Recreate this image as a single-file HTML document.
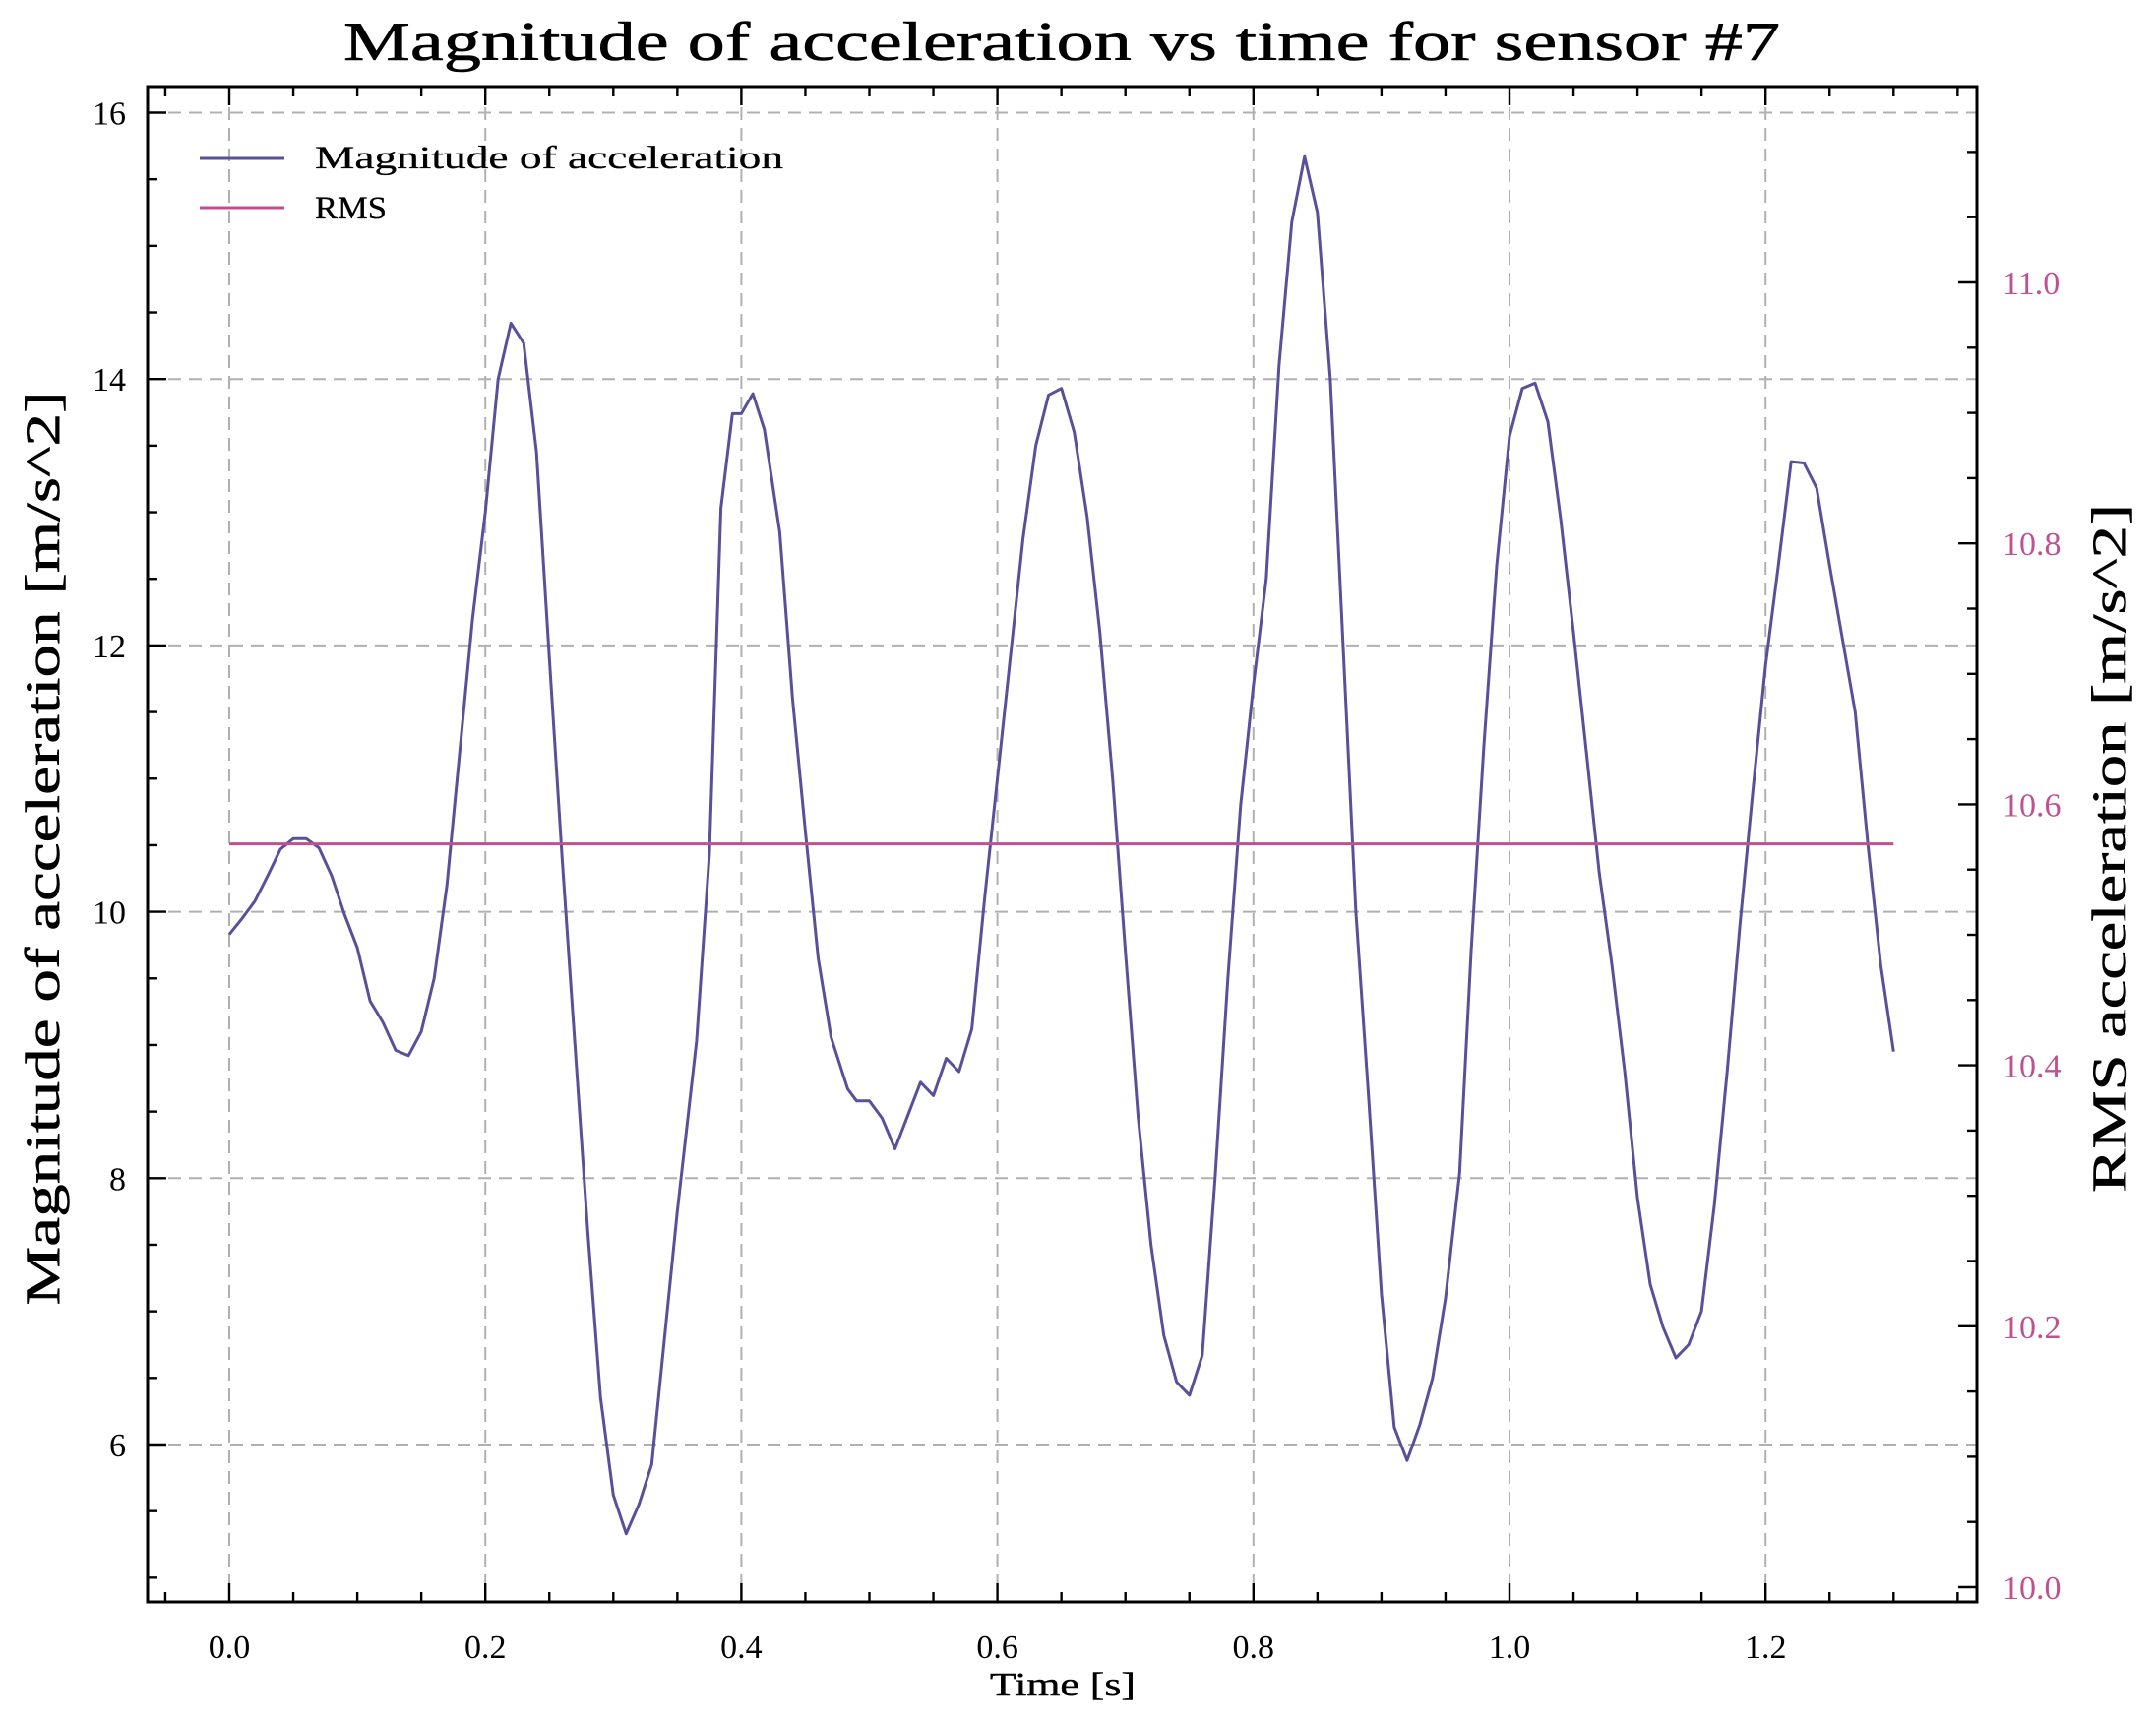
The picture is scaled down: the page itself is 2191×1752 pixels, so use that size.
<!DOCTYPE html>
<html><head><meta charset="utf-8"><style>
html,body{margin:0;padding:0;background:#fff;}
svg{display:block;font-family:"Liberation Serif",serif;}
</style></head><body>
<svg id="chart" xmlns="http://www.w3.org/2000/svg" width="2191" height="1752" viewBox="0 0 2191 1752">
<rect width="2191" height="1752" fill="#fff"/>
<g id="grid"></g>
<g id="series"></g>
<g id="axes"></g>
<text x="1079" y="61" font-size="56" text-anchor="middle" textLength="1460" lengthAdjust="spacingAndGlyphs" stroke="#000" stroke-width="0.6">Magnitude of acceleration vs time for sensor #7</text>
<text x="1080" y="1723" font-size="34" text-anchor="middle" textLength="148" lengthAdjust="spacingAndGlyphs" stroke="#000" stroke-width="0.4">Time [s]</text>
<text transform="translate(60,862) rotate(-90)" font-size="50" text-anchor="middle" textLength="929" lengthAdjust="spacingAndGlyphs" stroke="#000" stroke-width="0.5">Magnitude of acceleration [m/s^2]</text>
<text transform="translate(2160,862) rotate(-90)" font-size="50" text-anchor="middle" textLength="700" lengthAdjust="spacingAndGlyphs" stroke="#000" stroke-width="0.5">RMS acceleration [m/s^2]</text>
<g>
<line x1="203" y1="161" x2="289" y2="161" stroke="#59509a" stroke-width="3"/>
<text x="320" y="171" font-size="33" textLength="476" lengthAdjust="spacingAndGlyphs" stroke="#000" stroke-width="0.3">Magnitude of acceleration</text>
<line x1="203" y1="211" x2="289" y2="211" stroke="#c0508f" stroke-width="3"/>
<text x="320" y="222" font-size="33" textLength="73" lengthAdjust="spacingAndGlyphs" stroke="#000" stroke-width="0.3">RMS</text>
</g>
</svg>
<script>
const times=[0,0.01,0.02,0.03,0.04,0.05,0.06,0.07,0.08,0.09,0.10,0.11,0.12,0.13,0.14,0.15,0.16,0.17,0.18,0.19,0.20,0.21,0.22,0.23,0.24,0.25,0.26,0.27,0.28,0.29,0.30,0.31,0.32,0.33,0.34,0.35,0.365,0.375,0.384,0.393,0.400,0.409,0.418,0.430,0.440,0.450,0.460,0.470,0.483,0.490,0.500,0.510,0.520,0.530,0.540,0.550,0.560,0.570,0.580,0.590,0.600,0.610,0.620,0.630,0.640,0.650,0.660,0.670,0.680,0.690,0.700,0.710,0.720,0.730,0.740,0.750,0.760,0.770,0.780,0.790,0.800,0.810,0.820,0.830,0.840,0.850,0.860,0.870,0.880,0.890,0.900,0.910,0.920,0.930,0.940,0.950,0.961,0.970,0.980,0.990,1.00,1.01,1.02,1.03,1.04,1.05,1.06,1.07,1.08,1.09,1.10,1.11,1.12,1.13,1.14,1.15,1.16,1.17,1.18,1.19,1.20,1.21,1.22,1.23,1.24,1.25,1.26,1.27,1.28,1.29,1.30];
const magnitude=[9.83,9.95,10.08,10.27,10.47,10.55,10.55,10.48,10.27,9.98,9.73,9.33,9.17,8.96,8.92,9.10,9.50,10.20,11.20,12.20,13.00,14.00,14.42,14.27,13.45,11.90,10.40,9.00,7.60,6.35,5.62,5.33,5.55,5.85,6.80,7.75,9.03,10.43,13.03,13.74,13.74,13.89,13.62,12.85,11.60,10.60,9.65,9.06,8.67,8.58,8.58,8.45,8.22,8.47,8.72,8.62,8.90,8.80,9.12,10.10,11.00,11.90,12.80,13.50,13.88,13.93,13.60,12.97,12.10,11.00,9.70,8.45,7.50,6.82,6.47,6.37,6.67,8.00,9.50,10.80,11.70,12.50,14.10,15.18,15.67,15.25,14.00,12.00,10.00,8.60,7.13,6.13,5.88,6.15,6.50,7.10,8.04,9.70,11.25,12.60,13.57,13.93,13.97,13.68,12.95,12.10,11.20,10.30,9.60,8.80,7.85,7.20,6.88,6.65,6.75,7.00,7.80,8.80,9.90,10.90,11.85,12.60,13.38,13.37,13.18,12.60,12.05,11.50,10.50,9.60,8.95];
const rmsValue=[10.51];
const xTicks=[0,0.2,0.4,0.6,0.8,1.0,1.2];
const xTickLabels=["0.0","0.2","0.4","0.6","0.8","1.0","1.2"];
const yTicks=[6,8,10,12,14,16];
const yTickLabels=["6","8","10","12","14","16"];
const y2Ticks=[10.0,10.2,10.4,10.6,10.8,11.0];
const y2TickLabels=["10.0","10.2","10.4","10.6","10.8","11.0"];

const L=150,R=2009,T=88,B=1628;
const sx=t=>233+(t-0)*1301;
const sy=v=>114.5+(16-v)*135.35;
const sy2=v=>287+(11-v)*1326;
const NS="http://www.w3.org/2000/svg";
function mk(tag,attrs,parent){const e=document.createElementNS(NS,tag);for(const k in attrs)e.setAttribute(k,attrs[k]);parent.appendChild(e);return e;}
const grid=document.getElementById('grid'),series=document.getElementById('series'),axes=document.getElementById('axes');

xTicks.forEach(t=>{const g=mk('line',{x1:sx(t),x2:sx(t),y1:T,y2:B,stroke:'#b0b0b0','stroke-width':2,'stroke-dasharray':'13,8'},grid);

});
yTicks.forEach(v=>{const g=mk('line',{x1:L,x2:R,y1:sy(v),y2:sy(v),stroke:'#b0b0b0','stroke-width':2,'stroke-dasharray':'13,8'},grid);

});

const pts=times.map((t,i)=>sx(t).toFixed(1)+','+sy(magnitude[i]).toFixed(1)).join(' ');
const pl=mk('polyline',{points:pts,fill:'none',stroke:'#59509a','stroke-width':3,'stroke-linejoin':'round'},series);


const rl=mk('line',{x1:sx(times[0]),x2:sx(times[times.length-1]),y1:sy(rmsValue[0]),y2:sy(rmsValue[0]),stroke:'#c0508f','stroke-width':3},series);



const fr=mk('rect',{x:L,y:T,width:R-L,height:B-T,fill:'none',stroke:'#000','stroke-width':3},axes);


function tick(x1,y1,x2,y2){mk('line',{x1,y1,x2,y2,stroke:'#000','stroke-width':2.4},axes);}
for(let t=-0.05;t<=1.351;t+=0.05){const x=sx(t);const major=Math.abs(Math.round(t*10)/10-t)<1e-6&&Math.round(t*10)%2===0;const len=major?19:10;tick(x,B,x,B-len);tick(x,T,x,T+len);}
for(let v=5;v<=16.01;v+=0.5){const y=sy(v);const major=Math.abs(v%2)<1e-6;tick(L,y,L+(major?19:10),y);}
for(let v=10.0;v<=11.151;v+=0.05){const y=sy2(v);const major=Math.abs(Math.round(v*5)-v*5)<1e-6;tick(R,y,R-(major?19:10),y);}

xTicks.forEach((t,i)=>{const e=mk('text',{x:sx(t),y:B+57,'font-size':34,'text-anchor':'middle'},axes);e.textContent=xTickLabels[i];

});
yTicks.forEach((v,i)=>{const e=mk('text',{x:L-22,y:sy(v)+12,'font-size':34,'text-anchor':'end'},axes);e.textContent=yTickLabels[i];

});
y2Ticks.forEach((v,i)=>{const e=mk('text',{x:R+26,y:sy2(v)+12,'font-size':34,fill:'#c0508f'},axes);e.textContent=y2TickLabels[i];

});
</script>
</body></html>
